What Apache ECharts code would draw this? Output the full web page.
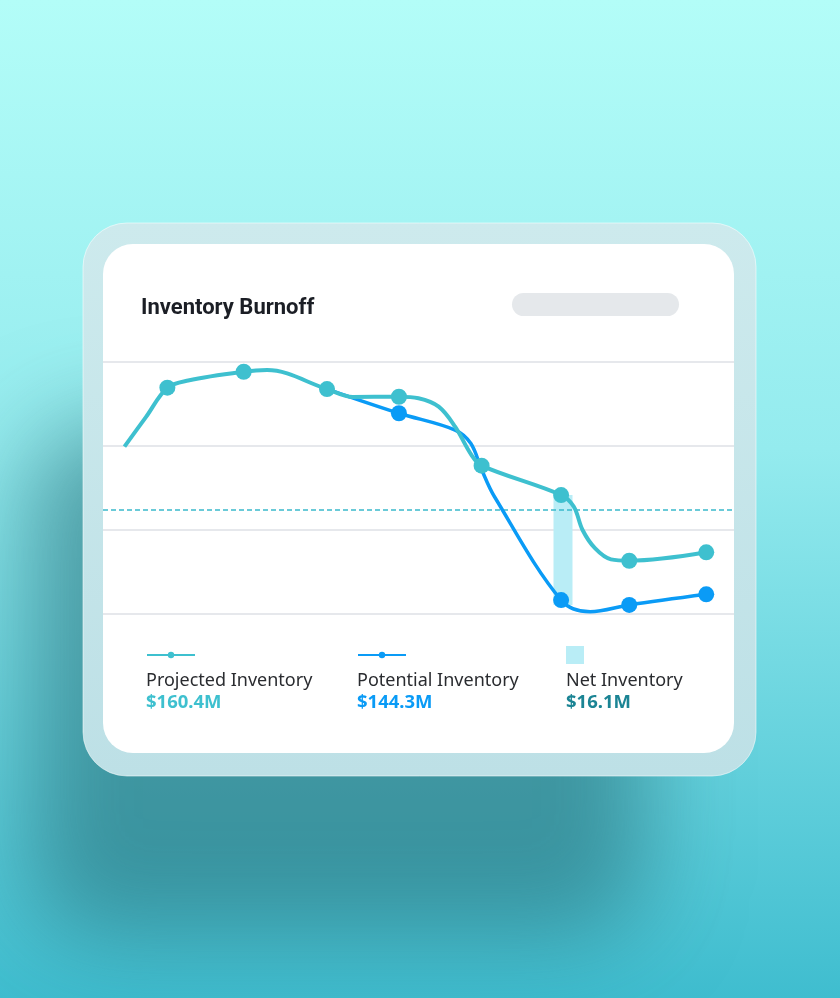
<!DOCTYPE html>
<html>
<head>
<meta charset="utf-8">
<script src="https://cdn.jsdelivr.net/npm/echarts@6/dist/echarts.min.js"></script>
<style>
html,body{margin:0;padding:0;width:840px;height:998px;overflow:hidden;}
#chart{width:840px;height:998px;}
</style>
</head>
<body>
<div id="chart"></div>
<script>
// ---- Data (x on a 0-100 time scale, y on a 0-150 value scale) ----
const chartTitle = 'Inventory Burnoff';
const projX = [3.4, 6.8, 10.2, 13.5, 22.3, 26.0, 35.5, 39.6, 46.9, 50.0, 53.2, 55.8, 58.4, 60.0, 72.6, 74.6, 76.0, 78.0, 80.5, 83.4, 95.6];
const projY = [99.6, 117.2, 134.7, 139.0, 144.2, 145.2, 133.9, 129.2, 129.3, 128.4, 123.4, 111.5, 94.6, 88.3, 70.8, 64.0, 50.0, 39.0, 32.5, 31.7, 36.7];
const projMarker = [0, 0, 1, 0, 1, 0, 1, 0, 1, 0, 0, 0, 0, 1, 1, 0, 0, 0, 0, 1, 1];
const potX = [35.5, 46.9, 55.8, 58.3, 60.0, 62.0, 72.6, 77.2, 83.4, 95.6];
const potY = [133.9, 119.5, 109.5, 101.5, 86.0, 70.1, 8.3, 1.4, 5.4, 11.7];
const potMarker = [0, 1, 0, 0, 0, 0, 1, 0, 1, 1];
const netX = [72.9];
const netLow = [8.3];
const netHigh = [70.8];
const thresholdValue = 62;
const yTicks = [0, 50, 100, 150];
const legendNames = ['Projected Inventory', 'Potential Inventory', 'Net Inventory'];
const legendValues = ['$160.4M', '$144.3M', '$16.1M'];

// ---- Styles ----
const C_PROJ = '#3ec0cf';
const C_POT = '#0a9bf6';
const C_NET = '#b9edf6';
const C_NET_TXT = '#1b8494';

function pts(xs, ys, marks) {
  return xs.map((x, i) => ({ value: [x, ys[i]], symbol: marks[i] ? 'circle' : 'none' }));
}

const chart = echarts.init(document.getElementById('chart'), null, { renderer: 'canvas' });

const legendX = [146, 357, 566];
const legendGraphics = [];
legendNames.forEach((name, i) => {
  const x = legendX[i];
  if (i < 2) {
    const col = i === 0 ? C_PROJ : C_POT;
    legendGraphics.push({ type: 'line', z: 20, shape: { x1: x + 1, y1: 655, x2: x + 49, y2: 655 }, style: { stroke: col, lineWidth: 2 } });
    legendGraphics.push({ type: 'circle', z: 20, shape: { cx: x + 25, cy: 655, r: 3.2 }, style: { fill: col } });
  } else {
    legendGraphics.push({ type: 'rect', z: 20, shape: { x: x, y: 646, width: 18, height: 18 }, style: { fill: C_NET } });
  }
  legendGraphics.push({ type: 'text', z: 20, style: { x: x, y: 681, text: name, fill: '#2a2c30', font: '400 18px "Noto Sans", "Open Sans", sans-serif', textVerticalAlign: 'middle' } });
  const vc = i === 0 ? C_PROJ : (i === 1 ? C_POT : C_NET_TXT);
  legendGraphics.push({ type: 'text', z: 20, style: { x: x, y: 703, text: legendValues[i], fill: vc, font: '700 18.5px "Noto Sans", "Open Sans", sans-serif', textVerticalAlign: 'middle' } });
});

const option = {
  animation: false,
  backgroundColor: {
    type: 'linear', x: 0, y: 0, x2: 0, y2: 1,
    colorStops: [
      { offset: 0, color: '#b3fdf8' },
      { offset: 0.45, color: '#94ebee' },
      { offset: 1, color: '#3fbdcf' }
    ]
  },
  graphic: [
    // blurred shadow (shape kept off-canvas, only its shadow shows)
    { type: 'rect', z: 0, shape: { x: 30 - 3000, y: 425, width: 615, height: 510, r: 70 },
      style: { fill: 'rgba(40,110,120,1)', shadowBlur: 95, shadowColor: 'rgba(40,112,122,0.6)', shadowOffsetX: 3000, shadowOffsetY: 0 } },
    // glass frame
    { type: 'rect', z: 1, shape: { x: 83, y: 223, width: 673, height: 553, r: 44 },
      style: { fill: { type: 'linear', x: 0, y: 0, x2: 0, y2: 1, colorStops: [{ offset: 0, color: '#cdeaed' }, { offset: 1, color: '#bde0e6' }] },
        stroke: 'rgba(255,255,255,0.55)', lineWidth: 1 } },
    // white card
    { type: 'rect', z: 1, shape: { x: 103, y: 244, width: 631, height: 509, r: 30 }, style: { fill: '#ffffff' } },
    // title
    { type: 'text', z: 20, style: { x: 141, y: 308, text: chartTitle, fill: '#1b1e25', font: '700 22px "Roboto", sans-serif', textVerticalAlign: 'middle' } },
    // placeholder pill
    { type: 'rect', z: 20, shape: { x: 512, y: 293, width: 167, height: 23, r: 11.5 }, style: { fill: '#e5e8eb' } }
  ].concat(legendGraphics),
  grid: { left: 103, right: 106, top: 362, bottom: 384, containLabel: false },
  xAxis: {
    type: 'value', min: 0, max: 100, show: true, z: 3,
    axisLine: { show: false }, axisTick: { show: false }, axisLabel: { show: false }, splitLine: { show: false }
  },
  yAxis: {
    type: 'value', min: yTicks[0], max: yTicks[yTicks.length - 1], interval: 50, z: 3,
    axisLine: { show: false }, axisTick: { show: false }, axisLabel: { show: false },
    splitLine: { show: true, lineStyle: { color: '#e6e8ec', width: 2 } }
  },
  series: [
    {
      type: 'custom', name: legendNames[2], z: 4, silent: true,
      data: netX.map((x, i) => [x, netLow[i], netHigh[i]]),
      renderItem: function (params, api) {
        const p1 = api.coord([api.value(0), api.value(2)]);
        const p0 = api.coord([api.value(0), api.value(1)]);
        const w = 19;
        return { type: 'rect', shape: { x: p1[0] - w / 2, y: p1[1], width: w, height: p0[1] - p1[1] + 5 }, style: { fill: C_NET } };
      }
    },
    {
      type: 'line', name: legendNames[1], z: 5, smooth: 0.35,
      data: pts(potX, potY, potMarker),
      symbolSize: 16, showAllSymbol: true,
      lineStyle: { color: C_POT, width: 3.5 },
      itemStyle: { color: C_POT },
      emphasis: { disabled: true }
    },
    {
      type: 'line', name: legendNames[0], z: 6, smooth: 0.35,
      data: pts(projX, projY, projMarker),
      symbolSize: 16, showAllSymbol: true,
      lineStyle: { color: C_PROJ, width: 4 },
      itemStyle: { color: C_PROJ },
      emphasis: { disabled: true },
      markLine: {
        silent: true, symbol: 'none', label: { show: false },
        lineStyle: { color: '#3ab9cb', type: [5, 3], width: 1.5 },
        data: [{ yAxis: thresholdValue }]
      }
    }
  ]
};
chart.setOption(option);
</script>
</body>
</html>
